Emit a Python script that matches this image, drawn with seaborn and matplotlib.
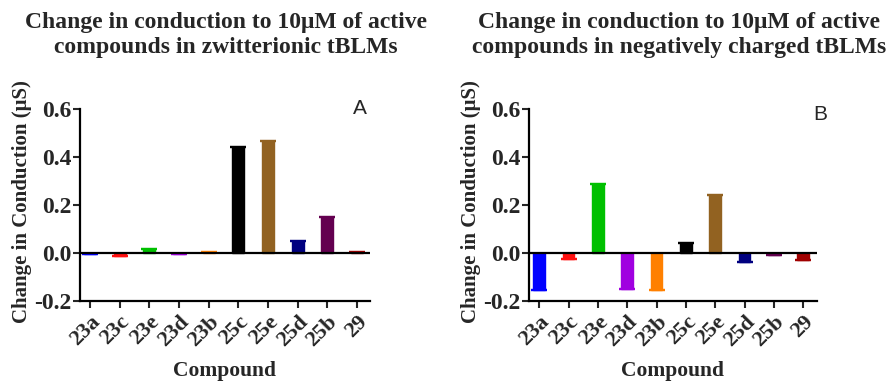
import matplotlib
matplotlib.use("Agg")
import matplotlib.pyplot as plt
import seaborn as sns
import pandas as pd

compounds = ["23a", "23c", "23e", "23d", "23b", "25c", "25e", "25d", "25b", "29"]
zwitterionic = [-0.005, -0.013, 0.018, -0.004, 0.004, 0.44, 0.468, 0.05, 0.152, 0.005]
negative = [-0.156, -0.026, 0.289, -0.148, -0.155, 0.04, 0.24, -0.036, -0.008, -0.03]
colors = ["#0000ff", "#ff1010", "#00c000", "#a000e0", "#ff8000",
          "#000000", "#926221", "#000080", "#640050", "#a00000"]
titles = ["Change in conduction to 10\u03bcM of active\ncompounds in zwitterionic tBLMs",
          "Change in conduction to 10\u03bcM of active\ncompounds in negatively charged tBLMs"]
panel_labels = ["A", "B"]

sns.set_style("ticks")
plt.rcParams["font.family"] = ["Liberation Serif", "DejaVu Serif"]

fig = plt.figure(figsize=(8.87, 3.81), dpi=100)
W, H = 887, 381
axes_px = [(80, 370, -0.337, 9.44), (529, 817, -0.35, 9.47)]
title_x = [226, 679]
label_xy = [(360, 108), (820, 115)]

for i, vals in enumerate([zwitterionic, negative]):
    l, r, x0, x1 = axes_px[i]
    ax = fig.add_axes([l / W, 1 - 301 / H, (r - l) / W, (301 - 109) / H])
    df = pd.DataFrame({"Compound": compounds, "value": vals})
    sns.barplot(data=df, x="Compound", y="value", hue="Compound", palette=colors,
                width=0.40, dodge=False, legend=False, ax=ax, saturation=1,
                linewidth=1.0, errorbar=None)
    for p, c in zip(ax.patches, colors):
        p.set_edgecolor(c)
    # zero-length error caps at the bar ends, as in the original
    for j, (v, c) in enumerate(zip(vals, colors)):
        ax.errorbar([j], [v], yerr=[0], fmt="none", ecolor=c, capsize=5.6,
                    capthick=1.6, elinewidth=0, zorder=4)
    ax.axhline(0, color="black", lw=1.6, zorder=5)
    ax.set_ylim(-0.2, 0.6)
    ax.set_xlim(x0, x1)
    ax.set_yticks([-0.2, 0.0, 0.2, 0.4, 0.6])
    ax.set_yticklabels(["-0.2", "0.0", "0.2", "0.4", "0.6"], fontsize=17, fontweight="bold")
    ax.set_xticks(range(len(compounds)))
    ax.set_xticklabels(compounds, rotation=45, ha="right", rotation_mode="anchor",
                       fontsize=16, fontweight="bold")
    ax.tick_params(axis="both", direction="out", length=5, width=1.5, pad=1)
    ax.tick_params(axis="x", pad=3)
    for s in ["top", "right"]:
        ax.spines[s].set_visible(False)
    for s in ["left", "bottom"]:
        ax.spines[s].set_linewidth(1.6)
        ax.spines[s].set_color("black")
    ax.set_xlabel("Compound", fontsize=15.5, fontweight="bold")
    ax.xaxis.set_label_coords(0.5, -0.315)
    ax.set_ylabel("Change in Conduction (\u03bcS)", fontsize=15, fontweight="bold")
    ax.yaxis.set_label_coords(-0.165, 0.52)
    fig.text(title_x[i] / W, 1 - 12 / H, titles[i], ha="center", va="top",
             fontsize=17, fontweight="bold", linespacing=1.22)
    lx, ly = label_xy[i]
    fig.text(lx / W, 1 - ly / H, panel_labels[i], ha="center", va="center",
             fontsize=15, family=["Liberation Sans", "DejaVu Sans"])

fig.savefig("out.png", dpi=100)
